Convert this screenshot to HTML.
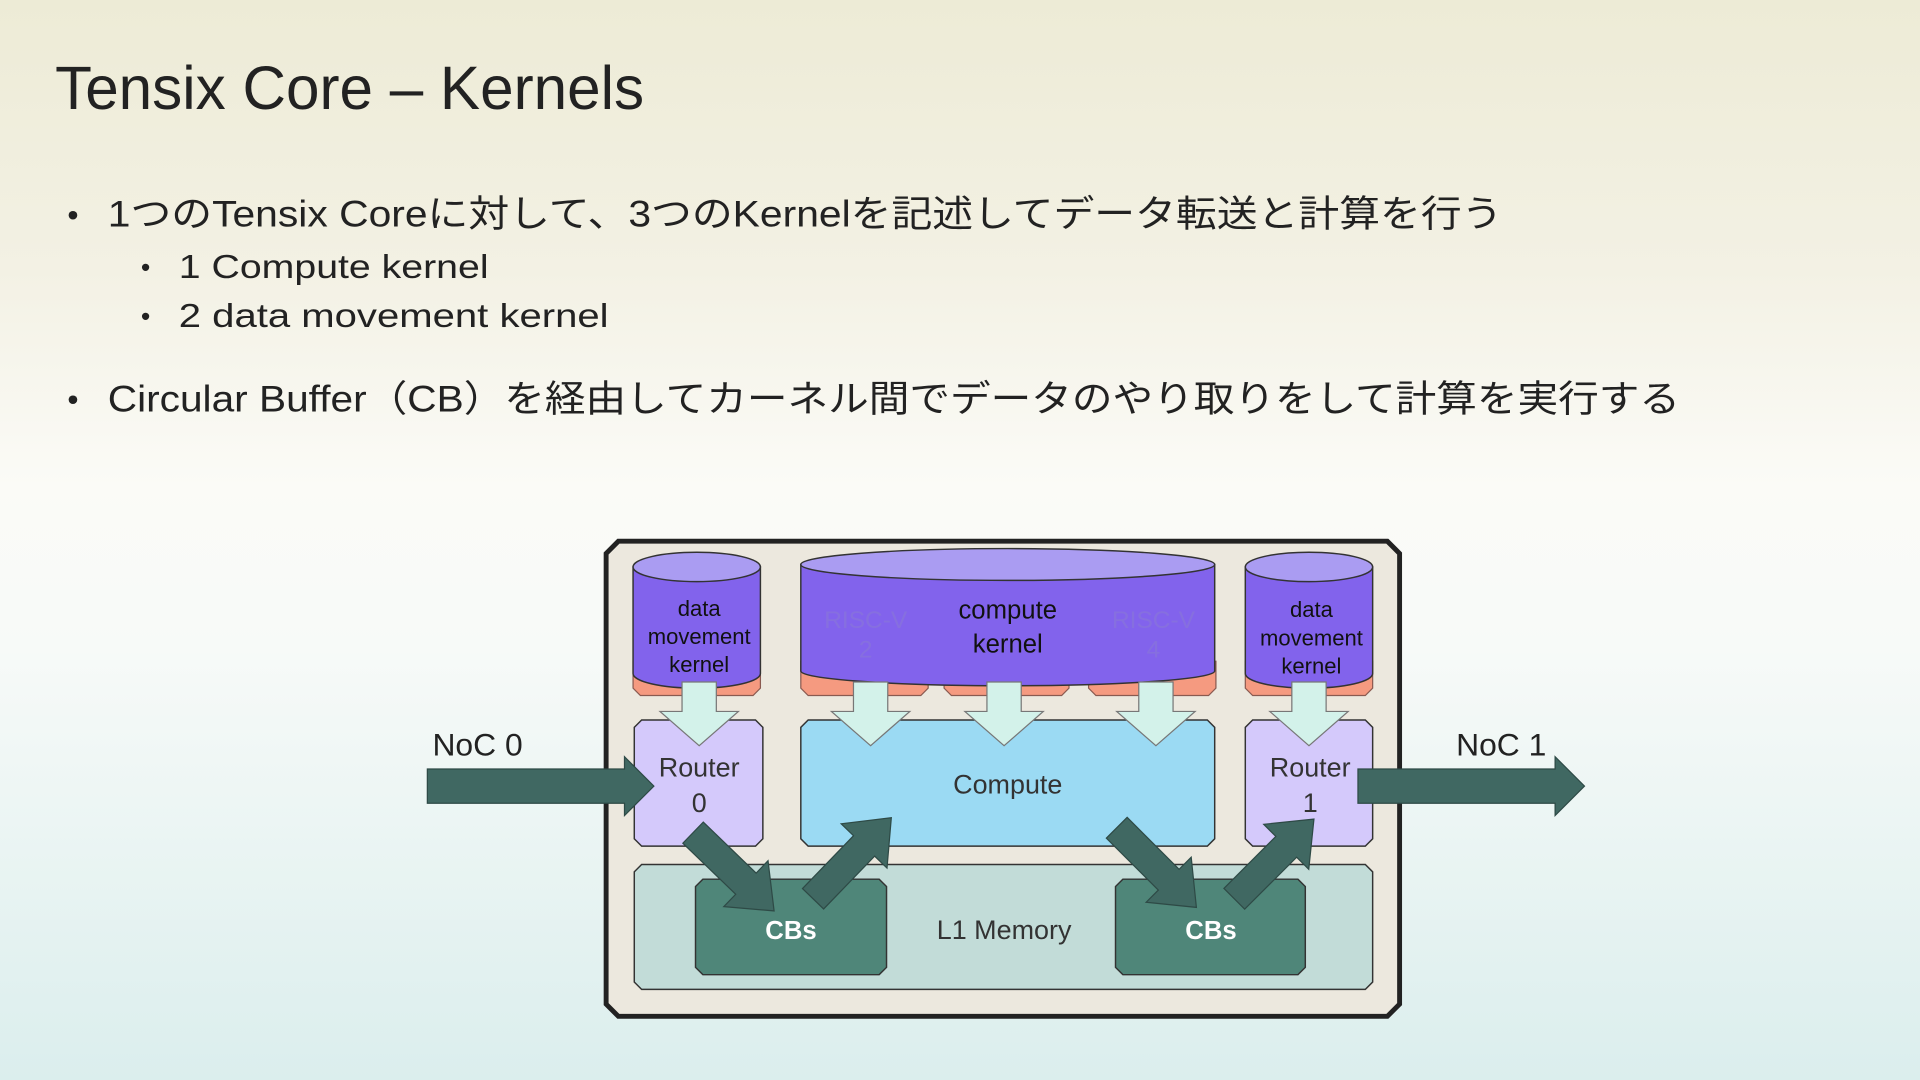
<!DOCTYPE html>
<html><head><meta charset="utf-8"><style>
html,body{margin:0;padding:0;width:1920px;height:1080px;overflow:hidden}
svg{display:block}
text{font-family:"Liberation Sans","Noto Sans CJK JP",sans-serif}
</style></head><body>
<svg width="1920" height="1080" viewBox="0 0 1568 882" preserveAspectRatio="none" xmlns="http://www.w3.org/2000/svg">
<defs>
<linearGradient id="bg" x1="0" y1="0" x2="0" y2="1">
<stop offset="0" stop-color="#edebd6"/>
<stop offset="0.25" stop-color="#f3f1e4"/>
<stop offset="0.45" stop-color="#fbfbf7"/>
<stop offset="0.6" stop-color="#f7faf8"/>
<stop offset="1" stop-color="#dbeeed"/>
</linearGradient>
<g id="darr"><polygon points="-14,0 14,0 14,24 32,24 0,52 -32,24 -14,24" fill="#d3f2ea" stroke="#777" stroke-width="1"/></g>
<g id="diag"><polygon points="0,-12 60,-12 60,-26 92,0 60,26 60,12 0,12" fill="#406862" stroke="#2e4a46" stroke-width="1"/></g>
</defs>
<rect width="1568" height="882" fill="url(#bg)"/>
<text x="45" y="89" font-size="50" fill="#222" textLength="481" lengthAdjust="spacingAndGlyphs">Tensix Core – Kernels</text>
<g fill="#222">
<text x="55" y="184" font-size="26">•</text>
<text x="88" y="185" font-size="30" textLength="1139" lengthAdjust="spacingAndGlyphs">1つのTensix Coreに対して、3つのKernelを記述してデータ転送と計算を行う</text>
<text x="115" y="226" font-size="22">•</text>
<text x="146" y="227" font-size="27" textLength="253" lengthAdjust="spacingAndGlyphs">1 Compute kernel</text>
<text x="115" y="266" font-size="22">•</text>
<text x="146" y="267" font-size="27" textLength="351" lengthAdjust="spacingAndGlyphs">2 data movement kernel</text>
<text x="55" y="335" font-size="26">•</text>
<text x="88" y="336" font-size="30" textLength="1284" lengthAdjust="spacingAndGlyphs">Circular Buffer（CB）を経由してカーネル間でデータのやり取りをして計算を実行する</text>
</g>
<!-- outer -->
<polygon points="505,442 1133,442 1143,452 1143,820 1133,830 505,830 495,820 495,452" fill="#ece8de" stroke="#222" stroke-width="4"/>
<!-- salmon pieces -->
<g fill="#f59a80" stroke="#8a5a50" stroke-width="1">
<polygon points="517,540 621,540 621,562 615,568 523,568 517,562"/>
<polygon points="654,540 758,540 758,562 752,568 660,568 654,562"/>
<polygon points="771,540 873,540 873,562 867,568 777,568 771,562"/>
<polygon points="889,540 993,540 993,562 987,568 895,568 889,562"/>
<polygon points="1017,540 1121,540 1121,562 1115,568 1023,568 1017,562"/>
</g>
<!-- cylinders -->
<g stroke="#333" stroke-width="1.2">
<path d="M517,463 L517,550 A52,12 0 0 0 621,550 L621,463 Z" fill="#8263ec"/>
<ellipse cx="569" cy="463" rx="52" ry="12" fill="#aa9cf2"/>
<path d="M654,461 L654,548 A169,12 0 0 0 992,548 L992,461 Z" fill="#8263ec"/>
<ellipse cx="823" cy="461" rx="169" ry="13" fill="#aa9cf2"/>
<path d="M1017,463 L1017,550 A52,12 0 0 0 1121,550 L1121,463 Z" fill="#8263ec"/>
<ellipse cx="1069" cy="463" rx="52" ry="12" fill="#aa9cf2"/>
</g>
<g fill="#8a78d8" font-size="20" text-anchor="middle" opacity="0.6">
<text x="707" y="513">RISC-V</text><text x="707" y="537">2</text>
<text x="942" y="513">RISC-V</text><text x="942" y="537">4</text>
</g>
<g fill="#111" font-size="18" text-anchor="middle">
<text x="571" y="503">data</text><text x="571" y="526">movement</text><text x="571" y="549">kernel</text>
<text x="1071" y="504">data</text><text x="1071" y="527">movement</text><text x="1071" y="550">kernel</text>
<text x="823" y="505" font-size="21">compute</text><text x="823" y="533" font-size="21">kernel</text>
</g>
<!-- blocks -->
<g stroke="#333" stroke-width="1.2">
<polygon points="524,588 617,588 623,594 623,685 617,691 524,691 518,685 518,594" fill="#d4c9fb"/>
<polygon points="660,588 986,588 992,594 992,685 986,691 660,691 654,685 654,594" fill="#9bdaf3"/>
<polygon points="1023,588 1115,588 1121,594 1121,685 1115,691 1023,691 1017,685 1017,594" fill="#d4c9fb"/>
<polygon points="524,706 1115,706 1121,712 1121,802 1115,808 524,808 518,802 518,712" fill="#c2dcd8"/>
<polygon points="574,718 718,718 724,724 724,790 718,796 574,796 568,790 568,724" fill="#4f8679"/>
<polygon points="917,718 1060,718 1066,724 1066,790 1060,796 917,796 911,790 911,724" fill="#4f8679"/>
</g>
<!-- down arrows -->
<use href="#darr" x="571" y="557"/>
<use href="#darr" x="711" y="557"/>
<use href="#darr" x="820" y="557"/>
<use href="#darr" x="944" y="557"/>
<use href="#darr" x="1069" y="557"/>
<g fill="#333" font-size="22" text-anchor="middle">
<text x="571" y="634">Router</text><text x="571" y="663">0</text>
<text x="1070" y="634">Router</text><text x="1070" y="663">1</text>
<text x="823" y="648">Compute</text>
<text x="820" y="767">L1 Memory</text>
</g>
<g fill="#fff" font-size="21" font-weight="bold" text-anchor="middle">
<text x="646" y="767">CBs</text><text x="989" y="767">CBs</text>
</g>
<!-- NoC arrows -->
<polygon points="349,628 510,628 510,618 534,642 510,666 510,656 349,656" fill="#406862" stroke="#2e4a46"/>
<polygon points="1109,628 1270,628 1270,618 1294,642 1270,666 1270,656 1109,656" fill="#406862" stroke="#2e4a46"/>
<g fill="#222" font-size="26" text-anchor="middle">
<text x="390" y="617">NoC 0</text><text x="1226" y="617">NoC 1</text>
</g>
<!-- diagonal arrows -->
<use href="#diag" transform="translate(566,680) rotate(44)"/>
<use href="#diag" transform="translate(664,734) rotate(-46)"/>
<use href="#diag" transform="translate(912,676) rotate(45)"/>
<use href="#diag" transform="translate(1008,734) rotate(-45)"/>
</svg>
</body></html>
